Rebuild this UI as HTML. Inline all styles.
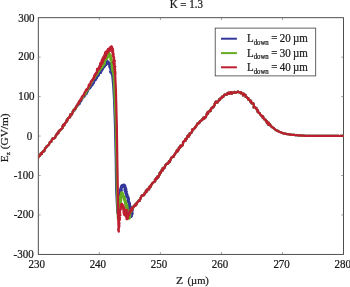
<!DOCTYPE html>
<html><head><meta charset="utf-8"><title>K = 1.3</title>
<style>html,body{margin:0;padding:0;background:#fff;overflow:hidden}svg{display:block}
text{font-family:"Liberation Serif","DejaVu Serif",serif;font-size:12.2px;fill:#1a1a1a;stroke:#1a1a1a;stroke-width:0.25px}</style></head>
<body><svg width="350" height="287" viewBox="0 0 350 287">
<rect width="350" height="287" fill="#fff"/>
<rect x="38.3" y="17.7" width="305.2" height="236.7" fill="none" stroke="#3c3c3c" stroke-width="0.9"/>
<path d="M99.35 254.40 v-2.40 M99.35 17.70 v2.40 M160.40 254.40 v-2.40 M160.40 17.70 v2.40 M221.45 254.40 v-2.40 M221.45 17.70 v2.40 M282.50 254.40 v-2.40 M282.50 17.70 v2.40 M38.30 57.15 h2.40 M343.55 57.15 h-2.40 M38.30 96.60 h2.40 M343.55 96.60 h-2.40 M38.30 136.05 h2.40 M343.55 136.05 h-2.40 M38.30 175.50 h2.40 M343.55 175.50 h-2.40 M38.30 214.95 h2.40 M343.55 214.95 h-2.40" stroke="#666" stroke-width="0.6" fill="none"/>
<clipPath id="c"><rect x="38.3" y="17.7" width="305.25" height="236.7"/></clipPath>
<g clip-path="url(#c)">
<path d="M95.52 79.82 L95.75 78.40 L96.28 77.72 L96.76 78.17 L96.78 77.88 L96.77 77.40 L97.17 76.79 L97.84 76.02 L98.15 75.69 L98.55 75.42 L98.73 74.97 L98.78 74.41 L98.80 73.67 L98.98 73.29 L99.65 73.09 L100.13 72.87 L100.77 72.77 L101.00 72.00 L101.26 71.01 L101.68 70.27 L101.90 70.08 L102.01 69.87 L102.39 69.14 L102.58 68.66 L102.72 68.10 L103.05 67.88 L103.16 67.48 L103.37 67.22 L103.67 67.09 L104.32 66.39 L104.86 65.32 L104.97 64.67 L105.73 64.93 L106.52 63.99 L106.88 63.09 L107.45 63.10 L107.56 62.22 L107.42 61.93 L107.79 63.32" fill="none" stroke="#33379a" stroke-width="2.4" stroke-linejoin="round" stroke-linecap="round"/>
<path d="M102.01 69.87 L102.39 69.14 L102.58 68.66 L102.72 68.10 L103.05 67.88 L103.16 67.48 L103.37 67.22 L103.67 67.09 L104.32 66.39 L104.86 65.32 L104.97 64.67 L105.73 64.93 L106.52 63.99 L106.88 63.09 L107.45 63.10 L107.56 62.22 L107.42 61.93 L107.79 63.32" fill="none" stroke="#33379a" stroke-width="2.7" stroke-linejoin="round" stroke-linecap="round"/>
<path d="M107.56 62.22 L107.42 61.93" fill="none" stroke="#33379a" stroke-width="3.5" stroke-linejoin="round" stroke-linecap="round"/>
<path d="M108.94 63.19 L109.34 63.37 L109.49 63.75 L109.85 64.17 L110.00 64.62 L109.96 65.77 L110.27 67.27 L110.83 67.26 L110.90 67.23 L111.08 68.39 L111.19 70.26 L111.25 69.28 L111.37 69.47 L111.16 71.71 L110.84 71.81 L111.52 70.96 L111.91 71.76 L111.80 72.80 L112.00 73.00 L112.06 73.57" fill="none" stroke="#33379a" stroke-width="3.6" stroke-linejoin="round" stroke-linecap="round"/>
<path d="M119.30 204.12 L119.63 203.91 L119.84 202.96 L119.76 201.77 L119.46 201.70 L120.01 201.48 L120.14 200.67 L120.19 199.76 L120.31 198.67 L120.23 197.82 L120.68 198.03 L120.23 198.04 L120.13 197.25 L120.61 196.95 L120.73 196.98 L120.55 195.76 L120.49 193.92 L120.49 192.83 L120.17 192.73 L120.55 193.02 L120.74 192.76 L120.87 191.21 L121.19 190.47 L120.69 191.00 L120.55 190.37 L120.81 189.10 L120.76 189.26 L121.06 188.93 L121.27 187.61 L121.66 187.13 L122.10 186.71 L121.83 185.91 L121.95 185.70 L122.44 185.60 L122.82 185.49 L123.85 185.12 L124.68 185.74 L124.90 186.28 L124.79 186.60 L125.05 187.45 L125.21 188.14 L125.27 188.95 L125.86 189.42 L125.77 188.96 L125.09 189.06 L125.08 190.56 L125.74 191.39 L126.28 191.68 L126.02 192.11 L125.85 192.88 L126.34 193.60 L126.66 194.32 L127.00 194.88 L126.85 195.38 L126.71 196.34 L127.36 196.39 L127.74 197.11 L127.79 197.64 L128.14 197.65 L128.25 198.72 L128.29 199.36 L128.37 199.55 L128.10 200.22 L128.05 200.68 L128.57 201.68 L129.02 202.75 L129.03 203.00 L129.34 203.36 L129.46 204.10 L129.49 205.21 L129.77 205.88 L129.61 205.75 L129.14 206.26 L129.76 206.92 L130.46 207.18 L129.55 208.32 L129.44 208.80 L130.25 208.64 L130.37 208.73 L130.48 208.99 L130.39 210.26 L130.37 211.03 L130.67 211.60 L130.66 212.02 L130.70 212.19 L130.87 213.27 L131.23 214.49 L131.14 215.02 L130.90 215.49 L131.14 216.37 L131.32 215.78 L131.48 214.44 L131.79 213.55 L132.11 213.47 L132.02 212.83 L131.27 212.23 L131.39 211.34 L132.13 210.41 L132.21 210.49 L132.20 209.53 L131.76 208.49 L132.03 208.61 L132.40 208.27" fill="none" stroke="#33379a" stroke-width="3.2" stroke-linejoin="round" stroke-linecap="round"/>
<path d="M36.10 160.05 L36.45 158.78 L36.98 158.43 L37.27 158.69 L37.70 158.02 L38.14 157.73 L38.18 157.54 L38.54 156.65 L39.17 155.78 L39.78 155.53 L39.92 155.60 L39.98 155.49 L40.44 154.40 L40.77 153.41 L41.46 153.64 L41.89 154.07 L41.90 153.38 L42.22 152.20 L42.77 152.12 L42.93 151.80 L43.12 151.24 L43.88 151.40 L44.41 150.93 L44.51 150.01 L44.64 149.60 L44.98 148.92 L45.15 148.18 L45.68 147.76 L46.34 147.31 L46.56 146.90 L46.65 146.46 L46.86 146.06 L47.51 145.70 L48.02 145.40 L48.20 145.03 L48.60 145.02 L49.18 143.98 L49.34 143.50 L49.45 143.49 L49.77 142.22 L50.02 141.81 L50.64 141.81 L51.26 141.78 L51.54 140.97 L51.61 140.26 L51.74 140.21 L52.27 139.16 L52.72 138.31 L53.10 138.62 L53.41 138.80 L53.84 138.52 L54.60 138.04 L55.09 137.38 L55.41 136.82 L55.52 136.65 L55.76 135.90 L56.04 135.03 L56.39 135.00 L56.74 134.10 L56.86 133.97 L57.17 133.79 L57.71 132.91 L58.21 133.43 L58.48 132.75 L58.60 131.45 L58.94 131.79 L59.24 131.18 L59.81 130.10 L60.37 130.19 L60.51 130.05 L60.86 129.64 L60.93 129.18 L61.07 128.99 L61.67 128.77 L62.45 128.07 L62.58 127.06 L62.54 126.18 L63.02 125.32 L63.18 125.32 L63.22 124.90 L63.74 124.50 L64.32 125.24 L64.63 124.15 L65.20 122.87 L65.55 122.61 L65.67 122.64 L66.27 122.06 L66.80 121.29 L66.60 120.95 L66.57 120.45 L67.33 120.59 L67.48 119.90 L67.45 119.05 L67.77 118.99 L68.01 118.79 L68.35 117.84 L68.92 117.47 L69.62 117.56 L70.15 117.03 L70.26 116.45 L70.00 115.18 L70.30 114.49 L70.88 114.83 L71.26 114.60 L71.60 113.86 L71.56 113.98 L71.96 114.25 L72.49 112.13 L72.77 111.53 L73.08 111.54 L73.40 110.69 L73.81 110.53 L74.51 110.58 L74.78 109.67 L74.86 109.39 L74.97 109.32 L75.38 108.28 L75.78 107.25 L75.86 107.35 L76.41 107.38 L76.90 106.70 L77.31 105.82 L77.85 105.45 L77.91 105.07 L78.03 105.10 L78.73 104.28 L79.19 104.01 L79.35 104.22 L79.74 103.56 L79.85 103.11 L80.07 102.28 L80.73 101.50 L81.22 100.97 L81.19 100.48 L81.21 100.51 L81.73 99.92 L82.05 99.17 L82.26 98.73 L82.74 98.13 L83.08 97.69 L83.01 97.51 L83.45 96.92 L84.00 96.56 L84.15 97.01 L84.30 96.73 L84.91 95.68 L85.10 94.68 L84.95 94.03 L85.56 94.40 L86.33 94.19 L86.88 92.97 L86.79 92.54 L86.84 92.96 L87.08 92.47 L87.56 91.52 L87.86 91.11 L87.97 90.33 L88.67 89.39 L88.95 88.92 L89.32 88.76 L89.50 88.59 L89.62 88.46 L90.22 88.10 L90.46 87.44 L90.87 86.95 L91.30 86.14 L91.13 85.78 L92.01 85.72 L92.70 84.74 L92.39 84.25 L92.38 83.85 L92.70 83.58 L93.17 83.62 L93.59 83.49 L94.04 82.07 L94.56 80.41 L94.85 80.22 L94.95 80.27 L95.31 80.24 L95.52 79.82 L95.75 78.40 L96.28 77.72 L96.76 78.17 L96.78 77.88 L96.77 77.40 L97.17 76.79 L97.84 76.02 L98.15 75.69 L98.55 75.42 L98.73 74.97 L98.78 74.41 L98.80 73.67 L98.98 73.29 L99.65 73.09 L100.13 72.87 L100.77 72.77 L101.00 72.00 L101.26 71.01 L101.68 70.27 L101.90 70.08 L102.01 69.87 L102.39 69.14 L102.58 68.66 L102.72 68.10 L103.05 67.88 L103.16 67.48 L103.37 67.22 L103.67 67.09 L104.32 66.39 L104.86 65.32 L104.97 64.67 L105.73 64.93 L106.52 63.99 L106.88 63.09 L107.45 63.10 L107.56 62.22 L107.42 61.93 L107.79 63.32 L108.94 63.19 L109.34 63.37 L109.49 63.75 L109.85 64.17 L110.00 64.62 L109.96 65.77 L110.27 67.27 L110.83 67.26 L110.90 67.23 L111.08 68.39 L111.19 70.26 L111.25 69.28 L111.37 69.47 L111.16 71.71 L110.84 71.81 L111.52 70.96 L111.91 71.76 L111.80 72.80 L112.00 73.00 L112.06 73.57 L112.11 74.14 L112.17 74.71 L112.23 75.29 L112.29 75.86 L112.34 76.43 L112.40 77.00 L112.46 77.57 L112.51 78.14 L112.57 78.71 L112.63 79.29 L112.69 79.86 L112.74 80.43 L112.80 81.00 L112.86 81.57 L112.91 82.14 L112.97 82.71 L113.03 83.29 L113.09 83.86 L113.14 84.43 L113.20 85.00 L113.23 85.56 L113.27 86.11 L113.30 86.67 L113.33 87.22 L113.37 87.78 L113.40 88.33 L113.43 88.89 L113.47 89.44 L113.50 90.00 L113.53 90.56 L113.57 91.11 L113.60 91.67 L113.63 92.22 L113.67 92.78 L113.70 93.33 L113.73 93.89 L113.77 94.44 L113.80 95.00 L113.83 95.56 L113.87 96.11 L113.90 96.67 L113.93 97.22 L113.97 97.78 L114.00 98.33 L114.03 98.89 L114.07 99.44 L114.10 100.00 L114.12 100.56 L114.14 101.11 L114.16 101.67 L114.18 102.22 L114.20 102.78 L114.22 103.33 L114.24 103.89 L114.26 104.44 L114.28 105.00 L114.30 105.56 L114.32 106.11 L114.34 106.67 L114.36 107.22 L114.38 107.78 L114.40 108.33 L114.42 108.89 L114.44 109.44 L114.46 110.00 L114.48 110.56 L114.50 111.11 L114.52 111.67 L114.54 112.22 L114.56 112.78 L114.58 113.33 L114.60 113.89 L114.62 114.44 L114.64 115.00 L114.66 115.56 L114.68 116.11 L114.70 116.67 L114.72 117.22 L114.74 117.78 L114.76 118.33 L114.78 118.89 L114.80 119.44 L114.82 120.00 L114.84 120.56 L114.86 121.11 L114.88 121.67 L114.90 122.22 L114.92 122.78 L114.94 123.33 L114.96 123.89 L114.98 124.44 L115.00 125.00 L115.01 125.56 L115.03 126.11 L115.04 126.67 L115.05 127.22 L115.06 127.78 L115.08 128.33 L115.09 128.89 L115.10 129.44 L115.11 130.00 L115.13 130.56 L115.14 131.11 L115.15 131.67 L115.17 132.22 L115.18 132.78 L115.19 133.33 L115.20 133.89 L115.22 134.44 L115.23 135.00 L115.24 135.56 L115.25 136.11 L115.27 136.67 L115.28 137.22 L115.29 137.78 L115.30 138.33 L115.32 138.89 L115.33 139.44 L115.34 140.00 L115.36 140.56 L115.37 141.11 L115.38 141.67 L115.39 142.22 L115.41 142.78 L115.42 143.33 L115.43 143.89 L115.44 144.44 L115.46 145.00 L115.47 145.56 L115.48 146.11 L115.50 146.67 L115.51 147.22 L115.52 147.78 L115.53 148.33 L115.55 148.89 L115.56 149.44 L115.57 150.00 L115.58 150.56 L115.60 151.11 L115.61 151.67 L115.62 152.22 L115.63 152.78 L115.65 153.33 L115.66 153.89 L115.67 154.44 L115.69 155.00 L115.70 155.56 L115.71 156.11 L115.72 156.67 L115.74 157.22 L115.75 157.78 L115.76 158.33 L115.77 158.89 L115.79 159.44 L115.80 160.00 L115.81 160.56 L115.81 161.11 L115.82 161.67 L115.83 162.22 L115.84 162.78 L115.84 163.33 L115.85 163.89 L115.86 164.44 L115.87 165.00 L115.87 165.56 L115.88 166.11 L115.89 166.67 L115.90 167.22 L115.90 167.78 L115.91 168.33 L115.92 168.89 L115.93 169.44 L115.93 170.00 L115.94 170.56 L115.95 171.11 L115.96 171.67 L115.96 172.22 L115.97 172.78 L115.98 173.33 L115.99 173.89 L115.99 174.44 L116.00 175.00 L116.01 175.56 L116.01 176.11 L116.02 176.67 L116.03 177.22 L116.04 177.78 L116.04 178.33 L116.05 178.89 L116.06 179.44 L116.07 180.00 L116.07 180.56 L116.08 181.11 L116.09 181.67 L116.10 182.22 L116.10 182.78 L116.11 183.33 L116.12 183.89 L116.13 184.44 L116.13 185.00 L116.14 185.56 L116.15 186.11 L116.16 186.67 L116.16 187.22 L116.17 187.78 L116.18 188.33 L116.19 188.89 L116.19 189.44 L116.20 190.00 L116.23 190.56 L116.26 191.12 L116.29 191.68 L116.32 192.24 L116.35 192.80 L116.38 193.37 L116.40 193.93 L116.43 194.49 L116.46 195.05 L116.49 195.61 L116.52 196.17 L116.55 196.73 L116.58 197.29 L116.61 197.85 L116.64 198.41 L116.67 198.98 L116.70 199.54 L116.73 200.10 L116.76 200.66 L116.79 201.22 L116.81 201.78 L116.84 202.34 L116.87 202.90 L116.90 203.46 L116.93 204.02 L116.96 204.59 L116.99 205.15 L117.02 205.71 L117.05 206.27 L117.08 206.83 L117.11 207.39 L117.14 207.95 L117.17 208.51 L117.20 209.07 L117.22 209.63 L117.25 210.20 L117.28 210.76 L117.31 211.32 L117.34 211.88 L117.37 212.44 L117.40 213.00 L117.53 212.43 L117.66 211.86 L117.79 211.29 L117.91 210.71 L118.04 210.14 L118.17 209.57 L118.30 209.00 L118.43 208.43 L118.56 207.86 L118.45 207.67 L118.72 206.71 L118.36 205.98 L118.84 205.50 L118.96 204.68 L118.81 204.14 L119.30 204.12 L119.63 203.91 L119.84 202.96 L119.76 201.77 L119.46 201.70 L120.01 201.48 L120.14 200.67 L120.19 199.76 L120.31 198.67 L120.23 197.82 L120.68 198.03 L120.23 198.04 L120.13 197.25 L120.61 196.95 L120.73 196.98 L120.55 195.76 L120.49 193.92 L120.49 192.83 L120.17 192.73 L120.55 193.02 L120.74 192.76 L120.87 191.21 L121.19 190.47 L120.69 191.00 L120.55 190.37 L120.81 189.10 L120.76 189.26 L121.06 188.93 L121.27 187.61 L121.66 187.13 L122.10 186.71 L121.83 185.91 L121.95 185.70 L122.44 185.60 L122.82 185.49 L123.85 185.12 L124.68 185.74 L124.90 186.28 L124.79 186.60 L125.05 187.45 L125.21 188.14 L125.27 188.95 L125.86 189.42 L125.77 188.96 L125.09 189.06 L125.08 190.56 L125.74 191.39 L126.28 191.68 L126.02 192.11 L125.85 192.88 L126.34 193.60 L126.66 194.32 L127.00 194.88 L126.85 195.38 L126.71 196.34 L127.36 196.39 L127.74 197.11 L127.79 197.64 L128.14 197.65 L128.25 198.72 L128.29 199.36 L128.37 199.55 L128.10 200.22 L128.05 200.68 L128.57 201.68 L129.02 202.75 L129.03 203.00 L129.34 203.36 L129.46 204.10 L129.49 205.21 L129.77 205.88 L129.61 205.75 L129.14 206.26 L129.76 206.92 L130.46 207.18 L129.55 208.32 L129.44 208.80 L130.25 208.64 L130.37 208.73 L130.48 208.99 L130.39 210.26 L130.37 211.03 L130.67 211.60 L130.66 212.02 L130.70 212.19 L130.87 213.27 L131.23 214.49 L131.14 215.02 L130.90 215.49 L131.14 216.37 L131.32 215.78 L131.48 214.44 L131.79 213.55 L132.11 213.47 L132.02 212.83 L131.27 212.23 L131.39 211.34 L132.13 210.41 L132.21 210.49 L132.20 209.53 L131.76 208.49 L132.03 208.61 L132.40 208.27 L133.25 207.48 L133.62 207.08 L133.77 206.67 L133.77 205.91 L133.94 205.96 L134.64 205.17 L135.38 205.81 L135.57 205.41 L135.62 204.03 L136.69 204.19 L136.90 203.13 L136.64 202.79 L137.01 202.78 L137.43 202.23 L138.27 201.50 L138.85 200.31 L139.11 200.68 L139.59 200.83 L139.84 200.00 L140.05 199.62 L140.15 199.34 L140.61 198.24 L141.07 196.79 L141.51 196.16 L141.76 195.89 L141.87 195.27 L142.59 195.27 L142.95 195.47 L143.20 195.28 L143.89 195.13 L144.40 194.57 L144.06 193.97 L144.18 193.71 L145.17 193.01 L145.44 192.29 L145.96 192.25 L146.43 191.82 L145.81 191.15 L146.48 190.92 L147.06 191.20 L146.18 190.91 L146.76 189.85 L147.73 189.06 L148.11 188.71 L148.96 189.33 L149.46 187.75 L149.56 186.67 L149.26 187.49 L150.00 187.18 L150.78 186.22 L150.79 186.24 L150.69 186.61 L150.83 185.35 L151.61 184.60 L152.08 183.91 L152.42 183.42 L152.55 183.20 L152.39 183.09 L153.08 182.84 L153.82 182.01 L154.36 181.69 L155.09 181.49 L155.10 180.88 L154.99 179.65 L155.71 179.51 L156.38 179.21 L156.15 178.00 L156.74 177.96 L157.38 178.09 L157.18 178.22 L157.10 176.95 L157.39 176.53 L158.22 177.34 L158.75 176.17 L159.31 175.04 L159.81 174.56 L159.52 173.97 L159.54 173.24 L160.04 172.39 L160.24 172.37 L160.48 172.66 L160.76 172.98 L161.03 172.07 L161.59 170.16 L162.26 170.14 L162.94 170.31 L162.96 169.95 L162.83 169.53 L162.56 168.48 L162.99 167.93 L164.20 168.26 L164.43 168.18 L164.72 167.07 L164.99 166.86 L165.11 166.24 L165.28 165.27 L165.52 165.44 L165.74 164.69 L166.67 163.72 L167.71 163.80 L167.76 163.77 L167.84 163.23 L168.55 162.61 L169.06 161.85 L168.82 161.32 L169.03 162.43 L169.64 162.05 L170.03 161.03 L170.36 160.60 L170.18 160.11 L170.22 160.35 L170.47 159.56 L171.09 158.42 L171.84 157.29 L171.76 157.45 L172.78 157.05 L173.78 155.76 L173.41 156.37 L173.62 156.96 L173.93 155.96 L174.29 154.88 L175.00 154.17 L174.95 153.95 L175.23 153.58 L176.17 152.44 L176.62 151.89 L176.18 152.11 L176.36 151.35 L177.21 150.45 L177.50 150.65 L177.93 151.21 L178.03 150.79 L177.45 149.72 L178.37 149.94 L179.03 149.09 L178.93 147.65 L179.15 147.92 L179.73 148.15 L180.19 147.57 L180.34 145.74 L180.95 145.40 L181.64 146.19 L182.48 145.49 L182.63 145.05 L182.73 145.12 L182.92 144.44 L183.04 143.12 L183.08 141.97 L183.49 141.90 L183.51 141.88 L183.93 141.21 L184.82 140.61 L184.91 140.48 L185.52 140.74 L185.36 140.35 L185.14 139.22 L186.10 138.94 L186.60 139.04 L186.94 137.33 L187.30 136.99 L187.16 136.72 L187.67 135.63 L188.36 136.35 L188.73 136.58 L189.14 135.50 L189.87 134.48 L189.81 134.41 L189.45 133.62 L190.41 133.20 L190.68 133.33 L190.66 133.00 L191.51 132.62 L191.92 131.50 L192.09 131.18 L192.30 131.01 L192.03 129.96 L192.57 129.22 L193.60 128.93 L193.86 128.94 L193.91 129.18 L194.24 128.72 L194.93 127.55 L195.17 126.99 L195.23 127.23 L195.43 127.35 L196.07 126.36 L196.42 125.63 L196.56 125.41 L197.63 124.07 L197.61 123.30 L197.43 123.47 L198.60 123.33 L199.13 122.97 L199.58 122.51 L199.73 122.37 L199.56 121.81 L200.57 120.64 L200.91 120.77 L200.99 120.72 L201.55 120.40 L202.27 119.90 L202.42 119.67 L202.45 119.10 L203.34 117.74 L204.03 118.04 L204.21 118.74 L204.46 117.76 L204.62 117.26 L205.29 117.71 L205.97 116.99 L206.04 115.92 L206.77 114.38 L207.00 113.46 L206.91 113.55 L207.40 113.91 L208.12 113.72 L207.91 112.84 L207.46 112.51 L208.36 111.70 L209.12 111.37 L209.32 111.20 L210.27 111.09 L210.57 111.07 L210.37 109.87 L211.11 109.17 L211.28 108.42 L211.35 108.25 L211.88 108.03 L212.24 107.49 L212.71 107.86 L212.71 107.59 L212.89 106.91 L213.40 107.33 L213.52 106.97 L214.15 105.96 L214.69 105.17 L214.63 103.87 L214.74 103.61 L215.28 103.19 L215.75 101.53 L216.39 101.80 L217.37 102.67 L217.55 101.65 L217.52 101.62 L217.95 101.60 L218.74 100.55 L219.07 99.83 L219.46 100.05 L219.89 99.85 L219.53 98.84 L220.54 98.44 L221.82 97.94 L221.74 97.09 L221.97 96.72 L222.49 96.63 L223.31 96.78 L223.59 96.23 L223.65 95.83 L224.08 95.74 L224.27 94.79 L224.87 94.53 L225.73 94.63 L226.04 94.53 L227.11 94.52 L227.07 94.35 L227.39 93.34 L228.40 92.79 L228.38 93.77 L229.42 93.78 L230.44 92.07 L231.20 92.08 L231.14 93.50 L231.90 93.78 L232.57 93.06 L232.68 92.60 L233.86 92.72 L234.35 92.48 L234.55 91.96 L235.33 92.68 L235.91 92.76 L235.95 92.58 L236.81 92.19 L237.97 91.56 L238.41 91.77 L238.79 92.27 L239.50 92.52 L240.23 92.24 L240.82 92.24 L241.23 92.66 L240.96 93.49 L241.61 93.32 L242.87 93.30 L243.35 93.90 L244.00 93.82 L243.82 94.33 L243.07 95.45 L244.12 94.72 L245.52 94.86 L245.69 96.87 L245.60 96.93 L246.49 96.93 L247.15 97.74 L247.67 98.02 L248.28 98.13 L248.45 98.80 L248.09 99.51 L248.29 99.54 L249.12 99.81 L248.96 99.85 L249.41 99.99 L250.86 100.83 L251.13 101.32 L250.25 101.47 L251.07 102.41 L251.65 103.23 L251.67 103.48 L252.69 103.31 L253.35 103.29 L253.44 103.97 L253.80 104.54 L253.95 105.88 L253.66 107.34 L253.99 107.23 L254.54 106.87 L254.92 107.17 L255.36 107.28 L255.84 108.13 L256.47 108.63 L256.53 108.35 L256.54 109.19 L257.12 109.97 L257.87 110.30 L258.04 110.93 L257.54 111.62 L258.24 112.19 L258.76 112.62 L258.74 112.80 L259.31 112.86 L259.93 113.50 L259.92 114.08 L260.47 114.57 L261.19 115.06 L261.51 116.13 L261.89 116.37 L262.70 116.19 L263.17 116.76 L262.66 117.53 L262.79 117.64 L262.60 117.10 L263.62 118.26 L264.27 119.44 L264.26 119.48 L265.26 119.34 L265.78 120.17 L265.92 121.05 L265.91 120.77 L266.47 120.86 L267.01 121.26 L266.80 122.39 L266.94 122.99 L267.92 122.51 L268.81 122.78 L268.36 124.01 L268.58 124.89 L269.55 124.63 L270.10 124.39 L270.38 125.26 L270.64 125.90 L271.11 126.35 L271.64 126.65 L272.13 127.05 L272.47 127.39 L272.87 127.56 L273.52 127.77 L273.92 128.13 L274.12 128.57 L274.64 129.08 L275.08 129.54 L275.60 129.71 L276.08 130.20 L276.41 130.48 L277.15 130.70 L277.61 130.95 L277.99 130.99 L278.66 131.53 L279.26 131.95 L279.60 131.94 L280.19 132.06 L280.85 132.26 L281.30 132.46 L281.92 132.93 L282.57 133.00 L283.10 133.28 L283.68 133.56 L284.26 133.57 L284.60 133.53 L285.17 133.59 L285.76 133.77 L286.35 133.95 L286.95 134.09 L287.48 134.11 L288.09 134.10 L288.80 134.15 L289.42 134.41 L289.98 134.64 L290.49 134.69 L291.17 134.70 L291.77 134.82 L292.25 134.95 L292.83 134.90 L293.34 134.88 L293.83 134.83 L294.45 134.96 L295.10 135.10 L295.63 135.10 L296.15 135.07 L296.74 135.00 L297.29 135.06 L297.78 135.29 L298.36 135.52 L298.94 135.48 L299.40 135.39 L299.97 135.46 L300.57 135.48 L301.16 135.54 L301.71 135.58 L302.29 135.60 L302.88 135.67 L303.44 135.69 L303.98 135.67 L304.55 135.74 L305.15 135.80 L305.71 135.80 L306.31 135.82 L306.89 135.84 L307.41 135.88 L307.96 135.89 L308.55 135.87 L309.12 135.88 L309.66 135.87 L310.20 135.91 L310.77 135.91 L311.33 135.93 L311.86 135.93 L312.40 135.89 L312.95 135.89 L313.52 135.91 L314.09 135.91 L314.65 135.91 L315.21 135.90 L315.76 135.92 L316.28 135.89 L316.81 135.88 L317.38 135.90 L317.92 135.89 L318.48 135.88 L319.06 135.91 L319.64 135.88 L320.20 135.83 L320.75 135.87 L321.29 135.91 L321.83 135.89 L322.37 135.88 L322.92 135.93 L323.47 135.90 L324.01 135.83 L324.57 135.86 L325.16 135.91 L325.70 135.89 L326.22 135.92 L326.80 135.94 L327.37 135.90 L327.88 135.89 L328.44 135.89 L328.98 135.89 L329.54 135.91 L330.12 135.91 L330.65 135.90 L331.21 135.89 L331.78 135.91 L332.35 135.92 L332.90 135.91 L333.44 135.86 L333.99 135.87 L334.54 135.89 L335.11 135.90 L335.67 135.92 L336.23 135.90 L336.75 135.89 L337.32 135.92 L337.91 135.92 L338.44 135.91 L338.97 135.96 L339.54 136.00 L340.07 135.99 L340.60 135.93 L341.19 135.88 L341.75 135.87 L342.30 135.86 L342.83 135.90 L343.39 135.94 L343.97 135.89 L344.52 135.89" fill="none" stroke="#33379a" stroke-width="2.25" stroke-linejoin="round" stroke-linecap="butt"/>
<path d="M92.89 79.56 L93.03 79.15 L93.54 78.40 L94.34 77.66 L94.78 77.66 L94.98 76.65 L95.02 75.61 L95.36 76.20 L95.85 75.07 L96.29 74.28 L96.73 74.41 L96.90 74.24 L97.09 74.17 L97.57 73.27 L97.97 71.92 L98.15 71.99 L98.02 72.38 L98.24 71.32 L99.03 70.58 L99.46 70.39 L99.78 70.00 L100.00 69.48 L100.16 69.30 L100.65 68.20 L101.05 67.61 L101.28 67.87 L101.66 66.98 L102.12 66.80 L102.48 65.59 L102.24 65.08 L102.18 65.56 L102.70 64.23 L103.00 63.74 L103.04 63.55 L103.64 63.86 L104.04 64.19 L104.09 62.88 L104.10 61.39 L104.26 60.48 L104.96 60.14 L105.16 59.64 L105.60 58.90 L106.53 58.39 L106.44 58.14 L106.01 57.67 L106.80 56.99 L107.35 56.31 L107.15 57.19 L107.03 56.44 L107.53 54.36 L108.13 54.67 L108.59 54.45 L108.75 53.75 L108.76 53.56 L109.14 54.57" fill="none" stroke="#66ab22" stroke-width="2.4" stroke-linejoin="round" stroke-linecap="round"/>
<path d="M100.00 69.48 L100.16 69.30 L100.65 68.20 L101.05 67.61 L101.28 67.87 L101.66 66.98 L102.12 66.80 L102.48 65.59 L102.24 65.08 L102.18 65.56 L102.70 64.23 L103.00 63.74 L103.04 63.55 L103.64 63.86 L104.04 64.19 L104.09 62.88 L104.10 61.39 L104.26 60.48 L104.96 60.14 L105.16 59.64 L105.60 58.90 L106.53 58.39 L106.44 58.14 L106.01 57.67 L106.80 56.99 L107.35 56.31 L107.15 57.19 L107.03 56.44 L107.53 54.36 L108.13 54.67 L108.59 54.45 L108.75 53.75 L108.76 53.56 L109.14 54.57" fill="none" stroke="#66ab22" stroke-width="2.7" stroke-linejoin="round" stroke-linecap="round"/>
<path d="M104.09 62.88 L104.10 61.39 L104.26 60.48 L104.96 60.14 L105.16 59.64 L105.60 58.90 L106.53 58.39 L106.44 58.14 L106.01 57.67 L106.80 56.99 L107.35 56.31 L107.15 57.19 L107.03 56.44 L107.53 54.36 L108.13 54.67 L108.59 54.45 L108.75 53.75 L108.76 53.56 L109.14 54.57" fill="none" stroke="#66ab22" stroke-width="3.5" stroke-linejoin="round" stroke-linecap="round"/>
<path d="M109.38 55.18 L109.95 54.76 L110.45 55.55 L110.20 55.75 L110.13 55.73 L110.37 56.90 L110.76 57.00 L110.92 58.09 L110.59 59.07 L110.69 59.84 L111.10 59.77 L111.51 60.23 L111.94 61.75 L112.13 61.94 L112.01 61.54 L111.66 61.90 L111.82 62.38 L112.00 62.01 L111.83 64.72 L112.03 66.18 L112.34 66.28 L112.57 66.41 L112.37 66.64 L111.92 67.54 L112.30 68.08 L112.53 68.43 L112.71 68.75 L112.76 68.69 L112.51 69.50 L112.44 70.81 L113.08 71.52 L113.44 71.88 L113.19 72.19 L113.27 72.75 L113.36 73.31 L113.44 73.88" fill="none" stroke="#66ab22" stroke-width="2.6" stroke-linejoin="round" stroke-linecap="round"/>
<path d="M119.25 210.28 L119.40 209.67 L119.34 209.99 L119.14 208.78 L119.95 208.45 L120.13 207.43 L120.04 206.84 L120.03 206.39 L119.96 205.02 L119.56 204.56 L119.67 204.30 L119.95 203.70 L120.30 203.56 L120.63 203.79 L120.30 202.94 L120.05 201.60 L120.20 201.26 L120.36 200.77 L120.75 200.01 L120.66 199.03 L120.66 198.19 L120.49 197.86 L120.06 197.20 L120.83 196.45 L121.24 195.83 L121.01 195.76 L121.21 195.09 L121.28 194.72 L121.30 194.40 L121.56 192.91 L122.14 193.33 L122.73 194.48 L122.84 195.74 L123.14 195.85 L123.41 196.24 L123.76 197.05 L124.09 197.48 L124.21 198.17 L124.52 199.07 L124.48 199.05 L124.49 198.76 L124.77 199.97 L125.15 201.18 L125.55 201.90 L125.57 201.98 L125.33 202.05 L125.54 203.60 L125.84 204.07 L126.10 204.30 L126.52 205.04 L126.94 205.39 L126.39 205.80 L125.95 206.86 L126.46 207.28 L126.86 207.12 L127.14 207.97 L127.06 209.23 L127.19 210.14 L127.14 210.54 L126.97 211.00 L127.27 211.42 L127.21 212.12 L127.61 213.06 L127.78 213.54 L127.24 213.19 L127.62 214.02 L127.54 215.05 L127.47 214.94 L128.00 215.41 L128.52 216.01 L129.39 217.25 L129.24 218.00 L128.31 217.34 L128.45 218.09 L129.04 217.90 L128.88 217.65 L128.92 217.39 L129.64 215.92 L129.80 215.19 L129.36 214.85 L129.23 214.22 L129.15 213.81 L129.31 212.89 L129.68 212.59 L130.24 212.39 L130.13 211.52 L129.55 211.46 L130.29 211.85 L131.14 210.99 L131.29 210.53 L131.52 209.66 L132.14 208.84 L132.40 208.27" fill="none" stroke="#66ab22" stroke-width="3.2" stroke-linejoin="round" stroke-linecap="round"/>
<path d="M36.10 160.05 L36.45 158.78 L36.98 158.43 L37.27 158.69 L37.70 158.02 L38.14 157.73 L38.18 157.54 L38.54 156.65 L39.17 155.78 L39.78 155.53 L39.92 155.60 L39.98 155.49 L40.44 154.40 L40.77 153.41 L41.46 153.64 L41.89 154.07 L41.90 153.38 L42.22 152.20 L42.77 152.12 L42.93 151.80 L43.12 151.24 L43.88 151.40 L44.41 150.93 L44.51 150.01 L44.64 149.60 L44.98 148.92 L45.15 148.18 L45.68 147.76 L46.34 147.31 L46.56 146.90 L46.65 146.46 L46.86 146.06 L47.51 145.70 L48.02 145.40 L48.20 145.03 L48.60 145.02 L49.18 143.98 L49.34 143.50 L49.45 143.49 L49.77 142.22 L50.02 141.81 L50.64 141.81 L51.26 141.78 L51.54 140.97 L51.61 140.26 L51.74 140.21 L52.27 139.16 L52.72 138.31 L53.10 138.62 L53.41 138.80 L53.84 138.52 L54.60 138.04 L55.09 137.38 L55.41 136.82 L55.52 136.65 L55.76 135.90 L56.04 135.03 L56.39 135.00 L56.74 134.10 L56.86 133.97 L57.17 133.79 L57.71 132.91 L58.21 133.43 L58.48 132.75 L58.60 131.45 L58.94 131.79 L59.24 131.18 L59.81 130.10 L60.37 130.19 L60.51 130.05 L60.86 129.64 L60.93 129.18 L61.07 128.99 L61.67 128.77 L62.45 128.07 L62.58 127.06 L62.54 126.18 L63.02 125.32 L63.18 125.32 L63.22 124.90 L63.74 124.50 L64.32 125.24 L64.63 124.15 L65.20 122.87 L65.55 122.61 L65.67 122.64 L66.27 122.06 L66.80 121.29 L66.60 120.95 L66.57 120.45 L67.33 120.59 L67.48 119.90 L67.45 119.05 L67.77 118.99 L68.01 118.79 L68.35 117.84 L68.92 117.47 L69.62 117.56 L70.15 117.03 L70.26 116.45 L70.00 115.18 L70.30 114.49 L70.88 114.83 L71.26 114.60 L71.60 113.86 L71.56 113.98 L71.96 114.25 L72.51 111.79 L73.26 111.88 L73.40 111.53 L73.31 110.27 L73.44 110.55 L73.37 109.96 L74.20 108.99 L74.70 108.64 L74.67 108.71 L75.20 109.29 L75.79 108.66 L76.15 107.10 L76.62 106.80 L76.85 106.51 L76.56 105.87 L76.93 105.98 L77.56 105.29 L77.72 104.45 L77.96 103.95 L78.31 103.43 L78.96 103.34 L79.27 102.61 L79.07 101.96 L79.53 101.75 L79.77 101.19 L80.11 100.42 L80.79 99.71 L80.89 99.58 L81.05 99.50 L81.40 99.81 L82.07 98.65 L82.55 97.50 L82.40 97.95 L82.45 97.90 L82.94 97.48 L83.46 96.31 L83.66 95.69 L84.02 95.68 L84.42 95.07 L84.84 94.65 L85.25 93.64 L85.36 93.46 L85.61 94.04 L85.78 92.87 L86.20 92.09 L86.71 91.71 L86.79 90.75 L87.05 90.26 L87.33 90.35 L88.02 89.70 L88.33 88.75 L88.31 88.35 L88.74 88.12 L88.81 88.06 L89.04 87.21 L89.40 86.46 L89.72 86.24 L90.09 84.97 L90.46 84.26 L90.83 84.32 L90.92 83.94 L90.99 83.59 L91.24 82.44 L91.47 81.85 L91.57 81.79 L92.09 80.81 L92.64 80.70 L92.79 80.91 L92.82 80.03 L92.89 79.56 L93.03 79.15 L93.54 78.40 L94.34 77.66 L94.78 77.66 L94.98 76.65 L95.02 75.61 L95.36 76.20 L95.85 75.07 L96.29 74.28 L96.73 74.41 L96.90 74.24 L97.09 74.17 L97.57 73.27 L97.97 71.92 L98.15 71.99 L98.02 72.38 L98.24 71.32 L99.03 70.58 L99.46 70.39 L99.78 70.00 L100.00 69.48 L100.16 69.30 L100.65 68.20 L101.05 67.61 L101.28 67.87 L101.66 66.98 L102.12 66.80 L102.48 65.59 L102.24 65.08 L102.18 65.56 L102.70 64.23 L103.00 63.74 L103.04 63.55 L103.64 63.86 L104.04 64.19 L104.09 62.88 L104.10 61.39 L104.26 60.48 L104.96 60.14 L105.16 59.64 L105.60 58.90 L106.53 58.39 L106.44 58.14 L106.01 57.67 L106.80 56.99 L107.35 56.31 L107.15 57.19 L107.03 56.44 L107.53 54.36 L108.13 54.67 L108.59 54.45 L108.75 53.75 L108.76 53.56 L109.14 54.57 L109.38 55.18 L109.95 54.76 L110.45 55.55 L110.20 55.75 L110.13 55.73 L110.37 56.90 L110.76 57.00 L110.92 58.09 L110.59 59.07 L110.69 59.84 L111.10 59.77 L111.51 60.23 L111.94 61.75 L112.13 61.94 L112.01 61.54 L111.66 61.90 L111.82 62.38 L112.00 62.01 L111.83 64.72 L112.03 66.18 L112.34 66.28 L112.57 66.41 L112.37 66.64 L111.92 67.54 L112.30 68.08 L112.53 68.43 L112.71 68.75 L112.76 68.69 L112.51 69.50 L112.44 70.81 L113.08 71.52 L113.44 71.88 L113.19 72.19 L113.27 72.75 L113.36 73.31 L113.44 73.88 L113.52 74.44 L113.60 75.00 L113.63 75.56 L113.66 76.11 L113.69 76.67 L113.72 77.22 L113.75 77.78 L113.78 78.33 L113.81 78.89 L113.84 79.44 L113.87 80.00 L113.90 80.56 L113.93 81.11 L113.96 81.67 L113.99 82.22 L114.01 82.78 L114.04 83.33 L114.07 83.89 L114.10 84.44 L114.13 85.00 L114.16 85.56 L114.19 86.11 L114.22 86.67 L114.25 87.22 L114.28 87.78 L114.31 88.33 L114.34 88.89 L114.37 89.44 L114.40 90.00 L114.42 90.56 L114.44 91.11 L114.47 91.67 L114.49 92.22 L114.51 92.78 L114.53 93.33 L114.56 93.89 L114.58 94.44 L114.60 95.00 L114.62 95.56 L114.64 96.11 L114.67 96.67 L114.69 97.22 L114.71 97.78 L114.73 98.33 L114.76 98.89 L114.78 99.44 L114.80 100.00 L114.82 100.56 L114.84 101.11 L114.87 101.67 L114.89 102.22 L114.91 102.78 L114.93 103.33 L114.96 103.89 L114.98 104.44 L115.00 105.00 L115.02 105.56 L115.04 106.11 L115.07 106.67 L115.09 107.22 L115.11 107.78 L115.13 108.33 L115.16 108.89 L115.18 109.44 L115.20 110.00 L115.22 110.56 L115.24 111.11 L115.27 111.67 L115.29 112.22 L115.31 112.78 L115.33 113.33 L115.36 113.89 L115.38 114.44 L115.40 115.00 L115.42 115.56 L115.44 116.11 L115.47 116.67 L115.49 117.22 L115.51 117.78 L115.53 118.33 L115.56 118.89 L115.58 119.44 L115.60 120.00 L115.62 120.56 L115.64 121.11 L115.67 121.67 L115.69 122.22 L115.71 122.78 L115.73 123.33 L115.76 123.89 L115.78 124.44 L115.80 125.00 L115.81 125.56 L115.82 126.11 L115.83 126.67 L115.84 127.22 L115.86 127.78 L115.87 128.33 L115.88 128.89 L115.89 129.44 L115.90 130.00 L115.91 130.56 L115.92 131.11 L115.93 131.67 L115.94 132.22 L115.96 132.78 L115.97 133.33 L115.98 133.89 L115.99 134.44 L116.00 135.00 L116.01 135.56 L116.02 136.11 L116.03 136.67 L116.04 137.22 L116.06 137.78 L116.07 138.33 L116.08 138.89 L116.09 139.44 L116.10 140.00 L116.11 140.56 L116.12 141.11 L116.13 141.67 L116.14 142.22 L116.16 142.78 L116.17 143.33 L116.18 143.89 L116.19 144.44 L116.20 145.00 L116.21 145.56 L116.22 146.11 L116.23 146.67 L116.24 147.22 L116.26 147.78 L116.27 148.33 L116.28 148.89 L116.29 149.44 L116.30 150.00 L116.31 150.56 L116.32 151.11 L116.33 151.67 L116.34 152.22 L116.36 152.78 L116.37 153.33 L116.38 153.89 L116.39 154.44 L116.40 155.00 L116.41 155.56 L116.42 156.11 L116.43 156.67 L116.44 157.22 L116.46 157.78 L116.47 158.33 L116.48 158.89 L116.49 159.44 L116.50 160.00 L116.51 160.56 L116.51 161.11 L116.52 161.67 L116.53 162.22 L116.54 162.78 L116.54 163.33 L116.55 163.89 L116.56 164.44 L116.57 165.00 L116.57 165.56 L116.58 166.11 L116.59 166.67 L116.60 167.22 L116.60 167.78 L116.61 168.33 L116.62 168.89 L116.63 169.44 L116.63 170.00 L116.64 170.56 L116.65 171.11 L116.66 171.67 L116.66 172.22 L116.67 172.78 L116.68 173.33 L116.69 173.89 L116.69 174.44 L116.70 175.00 L116.71 175.56 L116.71 176.11 L116.72 176.67 L116.73 177.22 L116.74 177.78 L116.74 178.33 L116.75 178.89 L116.76 179.44 L116.77 180.00 L116.77 180.56 L116.78 181.11 L116.79 181.67 L116.80 182.22 L116.80 182.78 L116.81 183.33 L116.82 183.89 L116.83 184.44 L116.83 185.00 L116.84 185.56 L116.85 186.11 L116.86 186.67 L116.86 187.22 L116.87 187.78 L116.88 188.33 L116.89 188.89 L116.89 189.44 L116.90 190.00 L116.92 190.56 L116.94 191.12 L116.96 191.67 L116.98 192.23 L117.00 192.79 L117.02 193.35 L117.03 193.90 L117.05 194.46 L117.07 195.02 L117.09 195.58 L117.11 196.13 L117.13 196.69 L117.15 197.25 L117.17 197.81 L117.19 198.37 L117.21 198.92 L117.23 199.48 L117.25 200.04 L117.27 200.60 L117.28 201.15 L117.30 201.71 L117.32 202.27 L117.34 202.83 L117.36 203.38 L117.38 203.94 L117.40 204.50 L117.42 205.06 L117.44 205.62 L117.46 206.17 L117.48 206.73 L117.50 207.29 L117.52 207.85 L117.53 208.40 L117.55 208.96 L117.57 209.52 L117.59 210.08 L117.61 210.63 L117.63 211.19 L117.65 211.75 L117.67 212.31 L117.69 212.87 L117.71 213.42 L117.73 213.98 L117.75 214.54 L117.77 215.10 L117.78 215.65 L117.80 216.21 L117.82 216.77 L117.84 217.33 L117.86 217.88 L117.88 218.44 L117.90 219.00 L117.99 218.42 L118.08 217.83 L118.18 217.25 L118.27 216.67 L118.36 216.08 L118.45 215.50 L118.54 214.92 L118.44 214.78 L118.44 214.11 L118.84 213.15 L118.80 212.79 L118.65 212.21 L118.97 211.13 L119.25 210.28 L119.40 209.67 L119.34 209.99 L118.84 209.75 L119.14 208.78 L119.95 208.45 L120.13 207.43 L120.04 206.84 L120.03 206.39 L119.96 205.02 L119.56 204.56 L119.67 204.30 L119.95 203.70 L120.30 203.56 L120.63 203.79 L120.30 202.94 L120.05 201.60 L120.20 201.26 L120.36 200.77 L120.75 200.01 L120.66 199.03 L120.66 198.19 L120.49 197.86 L120.06 197.20 L120.83 196.45 L121.24 195.83 L121.01 195.76 L121.21 195.09 L121.28 194.72 L121.30 194.40 L121.56 192.91 L122.14 193.33 L122.73 194.48 L122.84 195.74 L123.14 195.85 L123.41 196.24 L123.76 197.05 L124.09 197.48 L124.21 198.17 L124.52 199.07 L124.48 199.05 L124.49 198.76 L124.77 199.97 L125.15 201.18 L125.55 201.90 L125.57 201.98 L125.33 202.05 L125.54 203.60 L125.84 204.07 L126.10 204.30 L126.52 205.04 L126.94 205.39 L126.39 205.80 L125.95 206.86 L126.46 207.28 L126.86 207.12 L127.14 207.97 L127.06 209.23 L127.19 210.14 L127.14 210.54 L126.97 211.00 L127.27 211.42 L127.21 212.12 L127.61 213.06 L127.78 213.54 L127.24 213.19 L127.62 214.02 L127.54 215.05 L127.47 214.94 L128.00 215.41 L128.52 216.01 L129.39 217.25 L129.24 218.00 L128.31 217.34 L128.45 218.09 L129.04 217.90 L128.88 217.65 L128.92 217.39 L129.64 215.92 L129.80 215.19 L129.36 214.85 L129.23 214.22 L129.15 213.81 L129.31 212.89 L129.68 212.59 L130.24 212.39 L130.13 211.52 L129.55 211.46 L130.29 211.85 L131.14 210.99 L131.29 210.53 L131.52 209.66 L132.14 208.84 L132.60 208.84 L132.40 208.27 L133.25 207.48 L133.62 207.08 L133.77 206.67 L133.77 205.91 L133.94 205.96 L134.64 205.17 L135.38 205.81 L135.57 205.41 L135.62 204.03 L136.69 204.19 L136.90 203.13 L136.64 202.79 L137.01 202.78 L137.43 202.23 L138.27 201.50 L138.85 200.31 L139.11 200.68 L139.59 200.83 L139.84 200.00 L140.05 199.62 L140.15 199.34 L140.61 198.24 L141.07 196.79 L141.51 196.16 L141.76 195.89 L141.87 195.27 L142.59 195.27 L142.95 195.47 L143.20 195.28 L143.89 195.13 L144.40 194.57 L144.06 193.97 L144.18 193.71 L145.17 193.01 L145.44 192.29 L145.96 192.25 L146.43 191.82 L145.81 191.15 L146.48 190.92 L147.06 191.20 L146.18 190.91 L146.76 189.85 L147.73 189.06 L148.11 188.71 L148.96 189.33 L149.46 187.75 L149.56 186.67 L149.26 187.49 L150.00 187.18 L150.78 186.22 L150.79 186.24 L150.69 186.61 L150.83 185.35 L151.61 184.60 L152.08 183.91 L152.42 183.42 L152.55 183.20 L152.39 183.09 L153.08 182.84 L153.82 182.01 L154.36 181.69 L155.09 181.49 L155.10 180.88 L154.99 179.65 L155.71 179.51 L156.38 179.21 L156.15 178.00 L156.74 177.96 L157.38 178.09 L157.18 178.22 L157.10 176.95 L157.39 176.53 L158.22 177.34 L158.75 176.17 L159.31 175.04 L159.81 174.56 L159.52 173.97 L159.54 173.24 L160.04 172.39 L160.24 172.37 L160.48 172.66 L160.76 172.98 L161.03 172.07 L161.59 170.16 L162.26 170.14 L162.94 170.31 L162.96 169.95 L162.83 169.53 L162.56 168.48 L162.99 167.93 L164.20 168.26 L164.43 168.18 L164.72 167.07 L164.99 166.86 L165.11 166.24 L165.28 165.27 L165.52 165.44 L165.74 164.69 L166.67 163.72 L167.71 163.80 L167.76 163.77 L167.84 163.23 L168.55 162.61 L169.06 161.85 L168.82 161.32 L169.03 162.43 L169.64 162.05 L170.03 161.03 L170.36 160.60 L170.18 160.11 L170.22 160.35 L170.47 159.56 L171.09 158.42 L171.84 157.29 L171.76 157.45 L172.78 157.05 L173.78 155.76 L173.41 156.37 L173.62 156.96 L173.93 155.96 L174.29 154.88 L175.00 154.17 L174.95 153.95 L175.23 153.58 L176.17 152.44 L176.62 151.89 L176.18 152.11 L176.36 151.35 L177.21 150.45 L177.50 150.65 L177.93 151.21 L178.03 150.79 L177.45 149.72 L178.37 149.94 L179.03 149.09 L178.93 147.65 L179.15 147.92 L179.73 148.15 L180.19 147.57 L180.34 145.74 L180.95 145.40 L181.64 146.19 L182.48 145.49 L182.63 145.05 L182.73 145.12 L182.92 144.44 L183.04 143.12 L183.08 141.97 L183.49 141.90 L183.51 141.88 L183.93 141.21 L184.82 140.61 L184.91 140.48 L185.52 140.74 L185.36 140.35 L185.14 139.22 L186.10 138.94 L186.60 139.04 L186.94 137.33 L187.30 136.99 L187.16 136.72 L187.67 135.63 L188.36 136.35 L188.73 136.58 L189.14 135.50 L189.87 134.48 L189.81 134.41 L189.45 133.62 L190.41 133.20 L190.68 133.33 L190.66 133.00 L191.51 132.62 L191.92 131.50 L192.09 131.18 L192.30 131.01 L192.03 129.96 L192.57 129.22 L193.60 128.93 L193.86 128.94 L193.91 129.18 L194.24 128.72 L194.93 127.55 L195.17 126.99 L195.23 127.23 L195.43 127.35 L196.07 126.36 L196.42 125.63 L196.56 125.41 L197.63 124.07 L197.61 123.30 L197.43 123.47 L198.60 123.33 L199.13 122.97 L199.58 122.51 L199.73 122.37 L199.56 121.81 L200.57 120.64 L200.91 120.77 L200.99 120.72 L201.55 120.40 L202.27 119.90 L202.42 119.67 L202.45 119.10 L203.34 117.74 L204.03 118.04 L204.21 118.74 L204.46 117.76 L204.62 117.26 L205.29 117.71 L205.97 116.99 L206.04 115.92 L206.77 114.38 L207.00 113.46 L206.91 113.55 L207.40 113.91 L208.12 113.72 L207.91 112.84 L207.46 112.51 L208.36 111.70 L209.12 111.37 L209.32 111.20 L210.27 111.09 L210.57 111.07 L210.37 109.87 L211.11 109.17 L211.28 108.42 L211.35 108.25 L211.88 108.03 L212.24 107.49 L212.71 107.86 L212.71 107.59 L212.89 106.91 L213.40 107.33 L213.52 106.97 L214.15 105.96 L214.69 105.17 L214.63 103.87 L214.74 103.61 L215.28 103.19 L215.75 101.53 L216.39 101.80 L217.37 102.67 L217.55 101.65 L217.52 101.62 L217.95 101.60 L218.74 100.55 L219.07 99.83 L219.46 100.05 L219.89 99.85 L219.53 98.84 L220.54 98.44 L221.82 97.94 L221.74 97.09 L221.97 96.72 L222.49 96.63 L223.31 96.78 L223.59 96.23 L223.65 95.83 L224.08 95.74 L224.27 94.79 L224.87 94.53 L225.73 94.63 L226.04 94.53 L227.11 94.52 L227.07 94.35 L227.39 93.34 L228.40 92.79 L228.38 93.77 L229.42 93.78 L230.44 92.07 L231.20 92.08 L231.14 93.50 L231.90 93.78 L232.57 93.06 L232.68 92.60 L233.86 92.72 L234.35 92.48 L234.55 91.96 L235.33 92.68 L235.91 92.76 L235.95 92.58 L236.81 92.19 L237.97 91.56 L238.41 91.77 L238.79 92.27 L239.50 92.52 L240.23 92.24 L240.82 92.24 L241.23 92.66 L240.96 93.49 L241.61 93.32 L242.87 93.30 L243.35 93.90 L244.00 93.82 L243.82 94.33 L243.07 95.45 L244.12 94.72 L245.52 94.86 L245.69 96.87 L245.60 96.93 L246.49 96.93 L247.15 97.74 L247.67 98.02 L248.28 98.13 L248.45 98.80 L248.09 99.51 L248.29 99.54 L249.12 99.81 L248.96 99.85 L249.41 99.99 L250.86 100.83 L251.13 101.32 L250.25 101.47 L251.07 102.41 L251.65 103.23 L251.67 103.48 L252.69 103.31 L253.35 103.29 L253.44 103.97 L253.80 104.54 L253.95 105.88 L253.66 107.34 L253.99 107.23 L254.54 106.87 L254.92 107.17 L255.36 107.28 L255.84 108.13 L256.47 108.63 L256.53 108.35 L256.54 109.19 L257.12 109.97 L257.87 110.30 L258.04 110.93 L257.54 111.62 L258.24 112.19 L258.76 112.62 L258.74 112.80 L259.31 112.86 L259.93 113.50 L259.92 114.08 L260.47 114.57 L261.19 115.06 L261.51 116.13 L261.89 116.37 L262.70 116.19 L263.17 116.76 L262.66 117.53 L262.79 117.64 L262.60 117.10 L263.62 118.26 L264.27 119.44 L264.26 119.48 L265.26 119.34 L265.78 120.17 L265.92 121.05 L265.91 120.77 L266.47 120.86 L267.01 121.26 L266.80 122.39 L266.94 122.99 L267.92 122.51 L268.81 122.78 L268.36 124.01 L268.58 124.89 L269.55 124.63 L270.10 124.39 L270.38 125.26 L270.64 125.90 L271.11 126.35 L271.64 126.65 L272.13 127.05 L272.47 127.39 L272.87 127.56 L273.52 127.77 L273.92 128.13 L274.12 128.57 L274.64 129.08 L275.08 129.54 L275.60 129.71 L276.08 130.20 L276.41 130.48 L277.15 130.70 L277.61 130.95 L277.99 130.99 L278.66 131.53 L279.26 131.95 L279.60 131.94 L280.19 132.06 L280.85 132.26 L281.30 132.46 L281.92 132.93 L282.57 133.00 L283.10 133.28 L283.68 133.56 L284.26 133.57 L284.60 133.53 L285.17 133.59 L285.76 133.77 L286.35 133.95 L286.95 134.09 L287.48 134.11 L288.09 134.10 L288.80 134.15 L289.42 134.41 L289.98 134.64 L290.49 134.69 L291.17 134.70 L291.77 134.82 L292.25 134.95 L292.83 134.90 L293.34 134.88 L293.83 134.83 L294.45 134.96 L295.10 135.10 L295.63 135.10 L296.15 135.07 L296.74 135.00 L297.29 135.06 L297.78 135.29 L298.36 135.52 L298.94 135.48 L299.40 135.39 L299.97 135.46 L300.57 135.48 L301.16 135.54 L301.71 135.58 L302.29 135.60 L302.88 135.67 L303.44 135.69 L303.98 135.67 L304.55 135.74 L305.15 135.80 L305.71 135.80 L306.31 135.82 L306.89 135.84 L307.41 135.88 L307.96 135.89 L308.55 135.87 L309.12 135.88 L309.66 135.87 L310.20 135.91 L310.77 135.91 L311.33 135.93 L311.86 135.93 L312.40 135.89 L312.95 135.89 L313.52 135.91 L314.09 135.91 L314.65 135.91 L315.21 135.90 L315.76 135.92 L316.28 135.89 L316.81 135.88 L317.38 135.90 L317.92 135.89 L318.48 135.88 L319.06 135.91 L319.64 135.88 L320.20 135.83 L320.75 135.87 L321.29 135.91 L321.83 135.89 L322.37 135.88 L322.92 135.93 L323.47 135.90 L324.01 135.83 L324.57 135.86 L325.16 135.91 L325.70 135.89 L326.22 135.92 L326.80 135.94 L327.37 135.90 L327.88 135.89 L328.44 135.89 L328.98 135.89 L329.54 135.91 L330.12 135.91 L330.65 135.90 L331.21 135.89 L331.78 135.91 L332.35 135.92 L332.90 135.91 L333.44 135.86 L333.99 135.87 L334.54 135.89 L335.11 135.90 L335.67 135.92 L336.23 135.90 L336.75 135.89 L337.32 135.92 L337.91 135.92 L338.44 135.91 L338.97 135.96 L339.54 136.00 L340.07 135.99 L340.60 135.93 L341.19 135.88 L341.75 135.87 L342.30 135.86 L342.83 135.90 L343.39 135.94 L343.97 135.89 L344.52 135.89" fill="none" stroke="#66ab22" stroke-width="2.25" stroke-linejoin="round" stroke-linecap="butt"/>
<path d="M92.70 79.46 L93.11 79.24 L93.16 79.02 L93.66 78.73 L94.09 77.88 L93.87 77.43 L94.22 76.79 L94.44 75.63 L94.71 75.50 L94.97 75.01 L95.23 74.13 L95.62 74.28 L95.95 73.43 L96.45 72.77 L96.61 72.93 L96.78 72.37 L97.16 71.20 L97.14 69.76 L97.31 69.24 L97.95 69.49 L98.25 69.14 L98.60 68.52 L99.39 68.31 L99.55 67.94 L99.36 67.28 L99.64 67.19 L100.04 66.44 L99.97 65.62 L100.27 66.11 L100.77 66.01 L100.33 64.36 L100.49 63.53 L101.07 63.67 L101.52 63.62 L101.78 62.98 L102.12 61.86 L102.35 61.05 L102.42 60.97 L102.27 60.85 L102.60 59.93 L103.46 59.22 L103.58 58.74 L103.31 58.57 L103.42 57.95 L104.38 57.34 L104.81 57.42 L104.60 56.92 L104.80 55.74 L105.32 55.58 L105.62 55.13 L105.55 54.25 L105.61 53.70 L106.01 52.29 L106.79 52.18 L107.03 52.53 L107.26 51.89 L107.73 51.42 L107.97 50.70 L108.37 49.78 L108.75 49.52 L109.34 50.26 L109.85 50.26 L109.90 48.70 L110.23 48.14 L110.77 47.72" fill="none" stroke="#bd1f31" stroke-width="2.4" stroke-linejoin="round" stroke-linecap="round"/>
<path d="M97.14 69.76 L97.31 69.24 L97.95 69.49 L98.25 69.14 L98.60 68.52 L99.39 68.31 L99.55 67.94 L99.36 67.28 L99.64 67.19 L100.04 66.44 L99.97 65.62 L100.27 66.11 L100.77 66.01 L100.33 64.36 L100.49 63.53 L101.07 63.67 L101.52 63.62 L101.78 62.98 L102.12 61.86 L102.35 61.05 L102.42 60.97 L102.27 60.85 L102.60 59.93 L103.46 59.22 L103.58 58.74 L103.31 58.57 L103.42 57.95 L104.38 57.34 L104.81 57.42 L104.60 56.92 L104.80 55.74 L105.32 55.58 L105.62 55.13 L105.55 54.25 L105.61 53.70 L106.01 52.29 L106.79 52.18 L107.03 52.53 L107.26 51.89 L107.73 51.42 L107.97 50.70 L108.37 49.78 L108.75 49.52 L109.34 50.26 L109.85 50.26 L109.90 48.70 L110.23 48.14 L110.77 47.72" fill="none" stroke="#bd1f31" stroke-width="2.7" stroke-linejoin="round" stroke-linecap="round"/>
<path d="M101.78 62.98 L102.12 61.86 L102.35 61.05 L102.42 60.97 L102.27 60.85 L102.60 59.93 L103.46 59.22 L103.58 58.74 L103.31 58.57 L103.42 57.95 L104.38 57.34 L104.81 57.42 L104.60 56.92 L104.80 55.74 L105.32 55.58 L105.62 55.13 L105.55 54.25 L105.61 53.70 L106.01 52.29 L106.79 52.18 L107.03 52.53 L107.26 51.89 L107.73 51.42 L107.97 50.70 L108.37 49.78 L108.75 49.52 L109.34 50.26 L109.85 50.26 L109.90 48.70 L110.23 48.14 L110.77 47.72" fill="none" stroke="#bd1f31" stroke-width="3.5" stroke-linejoin="round" stroke-linecap="round"/>
<path d="M111.28 46.78 L111.76 47.00 L111.90 47.50 L111.64 46.77 L111.82 47.63 L112.56 48.69 L112.34 49.53 L112.55 50.41 L113.01 50.73 L112.75 51.15 L112.42 52.06 L112.81 52.37 L113.10 53.06 L112.87 53.83 L113.31 53.89 L113.27 54.66 L113.02 55.16 L113.06 55.45 L113.31 56.42 L113.75 57.13 L113.93 57.51 L113.96 57.97 L113.87 58.75 L113.89 59.66 L113.88 60.06 L114.32 60.38 L114.56 61.14 L113.78 61.33 L113.56 62.81 L114.36 63.78 L114.35 63.13 L113.97 64.18 L114.39 64.90 L114.30 65.19 L114.49 66.37 L115.13 66.62 L114.79 66.79 L114.73 67.38 L114.77 68.02 L114.38 68.25 L114.68 68.48 L114.99 69.48 L114.87 70.71 L115.05 71.50 L114.89 72.27 L115.05 72.12 L115.08 72.68 L115.11 73.24 L115.13 73.79" fill="none" stroke="#bd1f31" stroke-width="2.5" stroke-linejoin="round" stroke-linecap="round"/>
<path d="M122.98 205.66 L123.08 206.93 L123.57 207.76 L123.65 208.05 L123.53 208.99 L123.88 209.36 L124.22 209.32 L124.01 210.52 L123.96 212.20 L123.92 212.90 L124.40 212.56 L124.54 213.23 L124.40 214.35 L125.22 215.07 L125.49 215.36 L125.08 214.24 L124.80 213.80 L124.81 213.56 L125.29 213.40 L125.61 213.31 L125.47 212.01 L126.10 210.62 L126.61 210.32 L125.94 210.97 L126.13 211.70 L126.37 212.48 L126.61 212.97 L126.57 213.79 L126.75 214.23 L127.02 214.07 L126.84 214.22 L126.21 214.84 L126.55 215.61 L127.00 215.96 L126.74 217.09 L127.01 218.33 L126.96 218.61 L126.88 218.91 L127.32 218.02 L127.56 217.46 L127.74 217.95 L127.75 217.02 L127.74 215.97 L127.82 216.31 L127.93 215.76 L128.46 214.91 L128.67 214.57 L128.45 213.80 L128.67 213.20 L129.25 213.43 L129.76 212.42 L130.09 211.22 L130.10 211.04 L130.20 211.06 L131.16 210.90 L131.61 210.36 L131.26 209.30 L131.85 208.31 L132.40 208.27" fill="none" stroke="#bd1f31" stroke-width="2.9" stroke-linejoin="round" stroke-linecap="round"/>
<path d="M36.10 160.05 L36.45 158.78 L36.98 158.43 L37.27 158.69 L37.70 158.02 L38.14 157.73 L38.18 157.54 L38.54 156.65 L39.17 155.78 L39.78 155.53 L39.92 155.60 L39.98 155.49 L40.44 154.40 L40.77 153.41 L41.46 153.64 L41.89 154.07 L41.90 153.38 L42.22 152.20 L42.77 152.12 L42.93 151.80 L43.12 151.24 L43.88 151.40 L44.41 150.93 L44.51 150.01 L44.64 149.60 L44.98 148.92 L45.15 148.18 L45.68 147.76 L46.34 147.31 L46.56 146.90 L46.65 146.46 L46.86 146.06 L47.51 145.70 L48.02 145.40 L48.20 145.03 L48.60 145.02 L49.18 143.98 L49.34 143.50 L49.45 143.49 L49.77 142.22 L50.02 141.81 L50.64 141.81 L51.26 141.78 L51.54 140.97 L51.61 140.26 L51.74 140.21 L52.27 139.16 L52.72 138.31 L53.10 138.62 L53.41 138.80 L53.84 138.52 L54.60 138.04 L55.09 137.38 L55.41 136.82 L55.52 136.65 L55.76 135.90 L56.04 135.03 L56.39 135.00 L56.74 134.10 L56.86 133.97 L57.17 133.79 L57.71 132.91 L58.21 133.43 L58.48 132.75 L58.60 131.45 L58.94 131.79 L59.24 131.18 L59.81 130.10 L60.37 130.19 L60.51 130.05 L60.86 129.64 L60.93 129.18 L61.07 128.99 L61.67 128.77 L62.45 128.07 L62.58 127.06 L62.54 126.18 L63.02 125.32 L63.18 125.32 L63.22 124.90 L63.74 124.50 L64.32 125.24 L64.63 124.15 L65.20 122.87 L65.55 122.61 L65.67 122.64 L66.27 122.06 L66.80 121.29 L66.60 120.95 L66.57 120.45 L67.33 120.59 L67.48 119.90 L67.45 119.05 L67.77 118.99 L68.01 118.79 L68.35 117.84 L68.92 117.47 L69.62 117.56 L70.15 117.03 L70.26 116.45 L70.00 115.18 L70.30 114.49 L70.88 114.83 L71.26 114.60 L71.60 113.86 L71.56 113.98 L71.96 114.25 L72.72 112.67 L72.81 111.45 L73.02 110.86 L73.29 110.88 L73.43 110.47 L73.90 109.91 L74.52 109.45 L75.37 109.03 L75.46 108.14 L75.30 108.11 L75.72 108.35 L75.71 108.15 L75.97 107.41 L76.29 106.25 L76.72 105.58 L77.46 104.74 L77.57 104.76 L77.50 104.43 L77.99 103.26 L78.46 103.08 L78.50 103.47 L78.85 103.14 L78.85 101.86 L79.13 101.07 L79.86 101.14 L80.15 100.85 L80.31 99.92 L80.39 99.43 L80.77 99.45 L81.26 99.69 L81.45 98.57 L81.62 97.25 L82.06 96.92 L82.65 95.87 L82.87 95.36 L83.11 95.34 L83.56 95.53 L83.96 95.34 L84.06 93.97 L84.05 93.75 L84.23 93.68 L84.55 92.42 L84.99 91.86 L85.43 91.76 L85.55 91.19 L85.71 90.91 L85.90 89.99 L86.36 89.41 L86.74 89.99 L86.88 89.88 L87.11 89.43 L87.28 89.04 L87.57 88.68 L88.18 87.47 L88.64 86.79 L88.61 86.07 L88.69 85.12 L88.90 84.62 L89.43 84.68 L90.08 85.25 L90.04 84.37 L89.90 84.01 L90.38 83.36 L90.71 82.33 L90.74 82.10 L91.13 81.20 L91.80 80.80 L91.82 81.27 L92.01 80.30 L92.70 79.46 L93.11 79.24 L93.16 79.02 L93.66 78.73 L94.09 77.88 L93.87 77.43 L94.22 76.79 L94.44 75.63 L94.71 75.50 L94.97 75.01 L95.23 74.13 L95.62 74.28 L95.95 73.43 L96.45 72.77 L96.61 72.93 L96.78 72.37 L97.16 71.20 L97.14 69.76 L97.31 69.24 L97.95 69.49 L98.25 69.14 L98.60 68.52 L99.39 68.31 L99.55 67.94 L99.36 67.28 L99.64 67.19 L100.04 66.44 L99.97 65.62 L100.27 66.11 L100.77 66.01 L100.33 64.36 L100.49 63.53 L101.07 63.67 L101.52 63.62 L101.78 62.98 L102.12 61.86 L102.35 61.05 L102.42 60.97 L102.27 60.85 L102.60 59.93 L103.46 59.22 L103.58 58.74 L103.31 58.57 L103.42 57.95 L104.38 57.34 L104.81 57.42 L104.60 56.92 L104.80 55.74 L105.32 55.58 L105.62 55.13 L105.55 54.25 L105.61 53.70 L106.01 52.29 L106.79 52.18 L107.03 52.53 L107.26 51.89 L107.73 51.42 L107.97 50.70 L108.37 49.78 L108.75 49.52 L109.34 50.26 L109.85 50.26 L109.90 48.70 L110.23 48.14 L110.77 47.72 L111.28 46.78 L111.76 47.00 L111.90 47.50 L111.64 46.77 L111.82 47.63 L112.56 48.69 L112.34 49.53 L112.55 50.41 L113.01 50.73 L112.75 51.15 L112.42 52.06 L112.81 52.37 L113.10 53.06 L112.87 53.83 L113.31 53.89 L113.27 54.66 L113.02 55.16 L113.06 55.45 L113.31 56.42 L113.75 57.13 L113.93 57.51 L113.96 57.97 L113.87 58.75 L113.89 59.66 L113.88 60.06 L114.32 60.38 L114.56 61.14 L113.78 61.33 L113.56 62.81 L114.36 63.78 L114.35 63.13 L113.97 64.18 L114.39 64.90 L114.30 65.19 L114.49 66.37 L115.13 66.62 L114.79 66.79 L114.73 67.38 L114.77 68.02 L114.38 68.25 L114.68 68.48 L114.99 69.48 L114.87 70.71 L115.05 71.50 L114.89 72.27 L115.05 72.12 L115.08 72.68 L115.11 73.24 L115.13 73.79 L115.16 74.35 L115.19 74.91 L115.21 75.47 L115.24 76.03 L115.26 76.59 L115.29 77.15 L115.32 77.71 L115.34 78.26 L115.37 78.82 L115.40 79.38 L115.42 79.94 L115.45 80.50 L115.48 81.06 L115.50 81.62 L115.53 82.18 L115.56 82.74 L115.58 83.29 L115.61 83.85 L115.64 84.41 L115.66 84.97 L115.69 85.53 L115.71 86.09 L115.74 86.65 L115.77 87.21 L115.79 87.76 L115.82 88.32 L115.85 88.88 L115.87 89.44 L115.90 90.00 L115.91 90.56 L115.93 91.11 L115.94 91.67 L115.96 92.22 L115.97 92.78 L115.98 93.33 L116.00 93.89 L116.01 94.44 L116.03 95.00 L116.04 95.56 L116.05 96.11 L116.07 96.67 L116.08 97.22 L116.09 97.78 L116.11 98.33 L116.12 98.89 L116.14 99.44 L116.15 100.00 L116.16 100.56 L116.18 101.11 L116.19 101.67 L116.21 102.22 L116.22 102.78 L116.23 103.33 L116.25 103.89 L116.26 104.44 L116.28 105.00 L116.29 105.56 L116.30 106.11 L116.32 106.67 L116.33 107.22 L116.34 107.78 L116.36 108.33 L116.37 108.89 L116.39 109.44 L116.40 110.00 L116.41 110.56 L116.43 111.11 L116.44 111.67 L116.46 112.22 L116.47 112.78 L116.49 113.33 L116.50 113.89 L116.52 114.44 L116.53 115.00 L116.55 115.56 L116.56 116.11 L116.58 116.67 L116.59 117.22 L116.61 117.78 L116.62 118.33 L116.64 118.89 L116.65 119.44 L116.67 120.00 L116.68 120.56 L116.70 121.11 L116.71 121.67 L116.73 122.22 L116.74 122.78 L116.76 123.33 L116.77 123.89 L116.79 124.44 L116.80 125.00 L116.81 125.56 L116.82 126.11 L116.82 126.67 L116.83 127.22 L116.84 127.78 L116.85 128.33 L116.86 128.89 L116.86 129.44 L116.87 130.00 L116.88 130.56 L116.89 131.11 L116.90 131.67 L116.90 132.22 L116.91 132.78 L116.92 133.33 L116.93 133.89 L116.93 134.44 L116.94 135.00 L116.95 135.56 L116.96 136.11 L116.97 136.67 L116.97 137.22 L116.98 137.78 L116.99 138.33 L117.00 138.89 L117.01 139.44 L117.01 140.00 L117.02 140.56 L117.03 141.11 L117.04 141.67 L117.05 142.22 L117.05 142.78 L117.06 143.33 L117.07 143.89 L117.08 144.44 L117.09 145.00 L117.09 145.56 L117.10 146.11 L117.11 146.67 L117.12 147.22 L117.13 147.78 L117.13 148.33 L117.14 148.89 L117.15 149.44 L117.16 150.00 L117.17 150.56 L117.17 151.11 L117.18 151.67 L117.19 152.22 L117.20 152.78 L117.20 153.33 L117.21 153.89 L117.22 154.44 L117.23 155.00 L117.24 155.56 L117.24 156.11 L117.25 156.67 L117.26 157.22 L117.27 157.78 L117.28 158.33 L117.28 158.89 L117.29 159.44 L117.30 160.00 L117.31 160.56 L117.32 161.11 L117.33 161.67 L117.34 162.22 L117.35 162.78 L117.36 163.33 L117.36 163.89 L117.37 164.44 L117.38 165.00 L117.39 165.56 L117.40 166.11 L117.41 166.67 L117.42 167.22 L117.43 167.78 L117.44 168.33 L117.45 168.89 L117.46 169.44 L117.47 170.00 L117.48 170.56 L117.49 171.11 L117.49 171.67 L117.50 172.22 L117.51 172.78 L117.52 173.33 L117.53 173.89 L117.54 174.44 L117.55 175.00 L117.56 175.56 L117.57 176.11 L117.58 176.67 L117.59 177.22 L117.60 177.78 L117.61 178.33 L117.61 178.89 L117.62 179.44 L117.63 180.00 L117.64 180.56 L117.65 181.11 L117.66 181.67 L117.67 182.22 L117.68 182.78 L117.69 183.33 L117.70 183.89 L117.71 184.44 L117.72 185.00 L117.73 185.56 L117.74 186.11 L117.74 186.67 L117.75 187.22 L117.76 187.78 L117.77 188.33 L117.78 188.89 L117.79 189.44 L117.80 190.00 L117.81 190.56 L117.81 191.11 L117.82 191.67 L117.83 192.22 L117.83 192.78 L117.84 193.33 L117.85 193.89 L117.85 194.44 L117.86 195.00 L117.87 195.56 L117.87 196.11 L117.88 196.67 L117.89 197.22 L117.89 197.78 L117.90 198.33 L117.91 198.89 L117.91 199.44 L117.92 200.00 L117.93 200.56 L117.93 201.11 L117.94 201.67 L117.95 202.22 L117.95 202.78 L117.96 203.33 L117.97 203.89 L117.97 204.44 L117.98 205.00 L117.99 205.56 L117.99 206.11 L118.00 206.67 L118.01 207.22 L118.01 207.78 L118.02 208.33 L118.03 208.89 L118.03 209.44 L118.04 210.00 L118.05 210.56 L118.05 211.11 L118.06 211.67 L118.07 212.22 L118.07 212.78 L118.08 213.33 L118.09 213.89 L118.09 214.44 L118.10 215.00 L118.12 215.55 L118.14 216.10 L118.16 216.66 L118.18 217.21 L118.20 217.76 L118.22 218.31 L118.24 218.86 L118.27 219.41 L118.29 219.97 L118.31 220.52 L118.33 221.07 L118.35 221.62 L118.37 222.17 L118.39 222.72 L118.41 223.28 L118.43 223.83 L118.45 224.38 L118.47 224.93 L118.49 225.48 L118.51 226.03 L118.53 226.59 L118.56 227.14 L118.58 227.69 L118.60 228.24 L118.81 228.52 L118.48 229.01 L118.08 229.38 L118.86 230.72 L118.77 231.72 L118.47 230.50 L118.69 229.65 L118.81 229.00 L118.72 228.18 L118.90 227.57 L118.91 226.96 L118.92 226.75 L119.30 226.61 L119.32 226.08 L119.23 225.26 L119.20 224.13 L119.44 223.57 L119.34 223.13 L119.38 222.84 L118.99 222.72 L118.57 222.11 L118.94 221.26 L119.43 219.92 L119.91 219.74 L119.38 220.08 L119.20 218.78 L119.87 217.88 L120.02 218.11 L119.86 217.18 L119.54 216.78 L119.07 216.43 L119.59 215.02 L120.53 214.98 L120.28 214.83 L119.89 213.67 L119.82 213.29 L120.00 212.34 L120.14 212.07 L119.75 211.86 L119.43 210.84 L119.58 210.38 L120.23 209.84 L120.81 209.65 L120.63 208.69 L120.69 208.07 L121.04 207.65 L120.88 206.58 L120.89 205.98 L120.70 205.26 L120.78 204.46 L121.78 204.35 L121.99 203.84 L121.76 204.43 L122.57 205.14 L122.44 205.02 L122.44 204.94 L122.98 205.66 L123.08 206.93 L123.57 207.76 L123.65 208.05 L123.53 208.99 L123.88 209.36 L124.22 209.32 L124.01 210.52 L123.96 212.20 L123.92 212.90 L124.40 212.56 L124.54 213.23 L124.40 214.35 L125.22 215.07 L125.49 215.36 L125.08 214.24 L124.80 213.80 L124.81 213.56 L125.29 213.40 L125.61 213.31 L125.47 212.01 L126.10 210.62 L126.61 210.32 L125.94 210.97 L126.13 211.70 L126.37 212.48 L126.61 212.97 L126.57 213.79 L126.75 214.23 L127.02 214.07 L126.84 214.22 L126.21 214.84 L126.55 215.61 L127.00 215.96 L126.74 217.09 L127.01 218.33 L126.96 218.61 L126.88 218.91 L127.32 218.02 L127.56 217.46 L127.74 217.95 L127.75 217.02 L127.74 215.97 L127.82 216.31 L127.93 215.76 L128.46 214.91 L128.67 214.57 L128.45 213.80 L128.67 213.20 L129.25 213.43 L129.76 212.42 L130.09 211.22 L130.10 211.04 L130.20 211.06 L131.16 210.90 L131.61 210.36 L131.26 209.30 L131.85 208.31 L132.40 208.27 L133.25 207.48 L133.62 207.08 L133.77 206.67 L133.77 205.91 L133.94 205.96 L134.64 205.17 L135.38 205.81 L135.57 205.41 L135.62 204.03 L136.69 204.19 L136.90 203.13 L136.64 202.79 L137.01 202.78 L137.43 202.23 L138.27 201.50 L138.85 200.31 L139.11 200.68 L139.59 200.83 L139.84 200.00 L140.05 199.62 L140.15 199.34 L140.61 198.24 L141.07 196.79 L141.51 196.16 L141.76 195.89 L141.87 195.27 L142.59 195.27 L142.95 195.47 L143.20 195.28 L143.89 195.13 L144.40 194.57 L144.06 193.97 L144.18 193.71 L145.17 193.01 L145.44 192.29 L145.96 192.25 L146.43 191.82 L145.81 191.15 L146.48 190.92 L147.06 191.20 L146.18 190.91 L146.76 189.85 L147.73 189.06 L148.11 188.71 L148.96 189.33 L149.46 187.75 L149.56 186.67 L149.26 187.49 L150.00 187.18 L150.78 186.22 L150.79 186.24 L150.69 186.61 L150.83 185.35 L151.61 184.60 L152.08 183.91 L152.42 183.42 L152.55 183.20 L152.39 183.09 L153.08 182.84 L153.82 182.01 L154.36 181.69 L155.09 181.49 L155.10 180.88 L154.99 179.65 L155.71 179.51 L156.38 179.21 L156.15 178.00 L156.74 177.96 L157.38 178.09 L157.18 178.22 L157.10 176.95 L157.39 176.53 L158.22 177.34 L158.75 176.17 L159.31 175.04 L159.81 174.56 L159.52 173.97 L159.54 173.24 L160.04 172.39 L160.24 172.37 L160.48 172.66 L160.76 172.98 L161.03 172.07 L161.59 170.16 L162.26 170.14 L162.94 170.31 L162.96 169.95 L162.83 169.53 L162.56 168.48 L162.99 167.93 L164.20 168.26 L164.43 168.18 L164.72 167.07 L164.99 166.86 L165.11 166.24 L165.28 165.27 L165.52 165.44 L165.74 164.69 L166.67 163.72 L167.71 163.80 L167.76 163.77 L167.84 163.23 L168.55 162.61 L169.06 161.85 L168.82 161.32 L169.03 162.43 L169.64 162.05 L170.03 161.03 L170.36 160.60 L170.18 160.11 L170.22 160.35 L170.47 159.56 L171.09 158.42 L171.84 157.29 L171.76 157.45 L172.78 157.05 L173.78 155.76 L173.41 156.37 L173.62 156.96 L173.93 155.96 L174.29 154.88 L175.00 154.17 L174.95 153.95 L175.23 153.58 L176.17 152.44 L176.62 151.89 L176.18 152.11 L176.36 151.35 L177.21 150.45 L177.50 150.65 L177.93 151.21 L178.03 150.79 L177.45 149.72 L178.37 149.94 L179.03 149.09 L178.93 147.65 L179.15 147.92 L179.73 148.15 L180.19 147.57 L180.34 145.74 L180.95 145.40 L181.64 146.19 L182.48 145.49 L182.63 145.05 L182.73 145.12 L182.92 144.44 L183.04 143.12 L183.08 141.97 L183.49 141.90 L183.51 141.88 L183.93 141.21 L184.82 140.61 L184.91 140.48 L185.52 140.74 L185.36 140.35 L185.14 139.22 L186.10 138.94 L186.60 139.04 L186.94 137.33 L187.30 136.99 L187.16 136.72 L187.67 135.63 L188.36 136.35 L188.73 136.58 L189.14 135.50 L189.87 134.48 L189.81 134.41 L189.45 133.62 L190.41 133.20 L190.68 133.33 L190.66 133.00 L191.51 132.62 L191.92 131.50 L192.09 131.18 L192.30 131.01 L192.03 129.96 L192.57 129.22 L193.60 128.93 L193.86 128.94 L193.91 129.18 L194.24 128.72 L194.93 127.55 L195.17 126.99 L195.23 127.23 L195.43 127.35 L196.07 126.36 L196.42 125.63 L196.56 125.41 L197.63 124.07 L197.61 123.30 L197.43 123.47 L198.60 123.33 L199.13 122.97 L199.58 122.51 L199.73 122.37 L199.56 121.81 L200.57 120.64 L200.91 120.77 L200.99 120.72 L201.55 120.40 L202.27 119.90 L202.42 119.67 L202.45 119.10 L203.34 117.74 L204.03 118.04 L204.21 118.74 L204.46 117.76 L204.62 117.26 L205.29 117.71 L205.97 116.99 L206.04 115.92 L206.77 114.38 L207.00 113.46 L206.91 113.55 L207.40 113.91 L208.12 113.72 L207.91 112.84 L207.46 112.51 L208.36 111.70 L209.12 111.37 L209.32 111.20 L210.27 111.09 L210.57 111.07 L210.37 109.87 L211.11 109.17 L211.28 108.42 L211.35 108.25 L211.88 108.03 L212.24 107.49 L212.71 107.86 L212.71 107.59 L212.89 106.91 L213.40 107.33 L213.52 106.97 L214.15 105.96 L214.69 105.17 L214.63 103.87 L214.74 103.61 L215.28 103.19 L215.75 101.53 L216.39 101.80 L217.37 102.67 L217.55 101.65 L217.52 101.62 L217.95 101.60 L218.74 100.55 L219.07 99.83 L219.46 100.05 L219.89 99.85 L219.53 98.84 L220.54 98.44 L221.82 97.94 L221.74 97.09 L221.97 96.72 L222.49 96.63 L223.31 96.78 L223.59 96.23 L223.65 95.83 L224.08 95.74 L224.27 94.79 L224.87 94.53 L225.73 94.63 L226.04 94.53 L227.11 94.52 L227.07 94.35 L227.39 93.34 L228.40 92.79 L228.38 93.77 L229.42 93.78 L230.44 92.07 L231.20 92.08 L231.14 93.50 L231.90 93.78 L232.57 93.06 L232.68 92.60 L233.86 92.72 L234.35 92.48 L234.55 91.96 L235.33 92.68 L235.91 92.76 L235.95 92.58 L236.81 92.19 L237.97 91.56 L238.41 91.77 L238.79 92.27 L239.50 92.52 L240.23 92.24 L240.82 92.24 L241.23 92.66 L240.96 93.49 L241.61 93.32 L242.87 93.30 L243.35 93.90 L244.00 93.82 L243.82 94.33 L243.07 95.45 L244.12 94.72 L245.52 94.86 L245.69 96.87 L245.60 96.93 L246.49 96.93 L247.15 97.74 L247.67 98.02 L248.28 98.13 L248.45 98.80 L248.09 99.51 L248.29 99.54 L249.12 99.81 L248.96 99.85 L249.41 99.99 L250.86 100.83 L251.13 101.32 L250.25 101.47 L251.07 102.41 L251.65 103.23 L251.67 103.48 L252.69 103.31 L253.35 103.29 L253.44 103.97 L253.80 104.54 L253.95 105.88 L253.66 107.34 L253.99 107.23 L254.54 106.87 L254.92 107.17 L255.36 107.28 L255.84 108.13 L256.47 108.63 L256.53 108.35 L256.54 109.19 L257.12 109.97 L257.87 110.30 L258.04 110.93 L257.54 111.62 L258.24 112.19 L258.76 112.62 L258.74 112.80 L259.31 112.86 L259.93 113.50 L259.92 114.08 L260.47 114.57 L261.19 115.06 L261.51 116.13 L261.89 116.37 L262.70 116.19 L263.17 116.76 L262.66 117.53 L262.79 117.64 L262.60 117.10 L263.62 118.26 L264.27 119.44 L264.26 119.48 L265.26 119.34 L265.78 120.17 L265.92 121.05 L265.91 120.77 L266.47 120.86 L267.01 121.26 L266.80 122.39 L266.94 122.99 L267.92 122.51 L268.81 122.78 L268.36 124.01 L268.58 124.89 L269.55 124.63 L270.10 124.39 L270.38 125.26 L270.64 125.90 L271.11 126.35 L271.64 126.65 L272.13 127.05 L272.47 127.39 L272.87 127.56 L273.52 127.77 L273.92 128.13 L274.12 128.57 L274.64 129.08 L275.08 129.54 L275.60 129.71 L276.08 130.20 L276.41 130.48 L277.15 130.70 L277.61 130.95 L277.99 130.99 L278.66 131.53 L279.26 131.95 L279.60 131.94 L280.19 132.06 L280.85 132.26 L281.30 132.46 L281.92 132.93 L282.57 133.00 L283.10 133.28 L283.68 133.56 L284.26 133.57 L284.60 133.53 L285.17 133.59 L285.76 133.77 L286.35 133.95 L286.95 134.09 L287.48 134.11 L288.09 134.10 L288.80 134.15 L289.42 134.41 L289.98 134.64 L290.49 134.69 L291.17 134.70 L291.77 134.82 L292.25 134.95 L292.83 134.90 L293.34 134.88 L293.83 134.83 L294.45 134.96 L295.10 135.10 L295.63 135.10 L296.15 135.07 L296.74 135.00 L297.29 135.06 L297.78 135.29 L298.36 135.52 L298.94 135.48 L299.40 135.39 L299.97 135.46 L300.57 135.48 L301.16 135.54 L301.71 135.58 L302.29 135.60 L302.88 135.67 L303.44 135.69 L303.98 135.67 L304.55 135.74 L305.15 135.80 L305.71 135.80 L306.31 135.82 L306.89 135.84 L307.41 135.88 L307.96 135.89 L308.55 135.87 L309.12 135.88 L309.66 135.87 L310.20 135.91 L310.77 135.91 L311.33 135.93 L311.86 135.93 L312.40 135.89 L312.95 135.89 L313.52 135.91 L314.09 135.91 L314.65 135.91 L315.21 135.90 L315.76 135.92 L316.28 135.89 L316.81 135.88 L317.38 135.90 L317.92 135.89 L318.48 135.88 L319.06 135.91 L319.64 135.88 L320.20 135.83 L320.75 135.87 L321.29 135.91 L321.83 135.89 L322.37 135.88 L322.92 135.93 L323.47 135.90 L324.01 135.83 L324.57 135.86 L325.16 135.91 L325.70 135.89 L326.22 135.92 L326.80 135.94 L327.37 135.90 L327.88 135.89 L328.44 135.89 L328.98 135.89 L329.54 135.91 L330.12 135.91 L330.65 135.90 L331.21 135.89 L331.78 135.91 L332.35 135.92 L332.90 135.91 L333.44 135.86 L333.99 135.87 L334.54 135.89 L335.11 135.90 L335.67 135.92 L336.23 135.90 L336.75 135.89 L337.32 135.92 L337.91 135.92 L338.44 135.91 L338.97 135.96 L339.54 136.00 L340.07 135.99 L340.60 135.93 L341.19 135.88 L341.75 135.87 L342.30 135.86 L342.83 135.90 L343.39 135.94 L343.97 135.89 L344.52 135.89" fill="none" stroke="#bd1f31" stroke-width="2.25" stroke-linejoin="round" stroke-linecap="butt"/>
</g>
<rect x="215.2" y="28.1" width="100.5" height="47.8" fill="#fff" stroke="#3c3c3c" stroke-width="0.8"/>
<path d="M221 38.7 H236.9" stroke="#33379a" stroke-width="2"/>
<text transform="translate(247.00,42.30) scale(0.9,1)" text-anchor="start">L<tspan font-size="7.5" dy="2.7">down</tspan><tspan dy="-2.7" letter-spacing="-0.2"> = 20 µm</tspan></text>
<path d="M221 53.1 H236.9" stroke="#66ab22" stroke-width="2"/>
<text transform="translate(247.00,56.70) scale(0.9,1)" text-anchor="start">L<tspan font-size="7.5" dy="2.7">down</tspan><tspan dy="-2.7" letter-spacing="-0.2"> = 30 µm</tspan></text>
<path d="M221 67.3 H236.9" stroke="#bd1f31" stroke-width="2"/>
<text transform="translate(247.00,70.90) scale(0.9,1)" text-anchor="start">L<tspan font-size="7.5" dy="2.7">down</tspan><tspan dy="-2.7" letter-spacing="-0.2"> = 40 µm</tspan></text>
<text transform="translate(36.80,267.80) scale(0.9,1)" text-anchor="middle">230</text>
<text transform="translate(97.85,267.80) scale(0.9,1)" text-anchor="middle">240</text>
<text transform="translate(158.90,267.80) scale(0.9,1)" text-anchor="middle">250</text>
<text transform="translate(219.95,267.80) scale(0.9,1)" text-anchor="middle">260</text>
<text transform="translate(281.60,267.80) scale(0.9,1)" text-anchor="middle">270</text>
<text transform="translate(342.65,267.80) scale(0.9,1)" text-anchor="middle">280</text>
<text transform="translate(34.60,21.70) scale(0.9,1)" text-anchor="end">300</text>
<text transform="translate(34.60,60.05) scale(0.9,1)" text-anchor="end">200</text>
<text transform="translate(34.60,100.20) scale(0.9,1)" text-anchor="end">100</text>
<text transform="translate(32.30,139.70) scale(0.9,1)" text-anchor="end">0</text>
<text transform="translate(33.80,179.20) scale(0.9,1)" text-anchor="end">-100</text>
<text transform="translate(33.80,218.40) scale(0.9,1)" text-anchor="end">-200</text>
<text transform="translate(33.70,258.30) scale(0.9,1)" text-anchor="end">-300</text>
<text transform="translate(186.30,7.80) scale(0.9,1)" text-anchor="middle">K <tspan dy="1.5">=</tspan><tspan dy="-1.5"> 1.3</tspan></text>
<text transform="translate(176.10,283.80) scale(0.95,0.92)" text-anchor="start">Z</text>
<text transform="translate(208.90,283.80) scale(0.87,0.92)" text-anchor="end">(µm)</text>
<text transform="translate(7.90,137.80) rotate(-90) scale(0.93,0.79)" text-anchor="middle">E<tspan font-size="7.6" dy="2.8">z</tspan><tspan dy="-2.8"> (GV/m)</tspan></text>
</svg></body></html>
